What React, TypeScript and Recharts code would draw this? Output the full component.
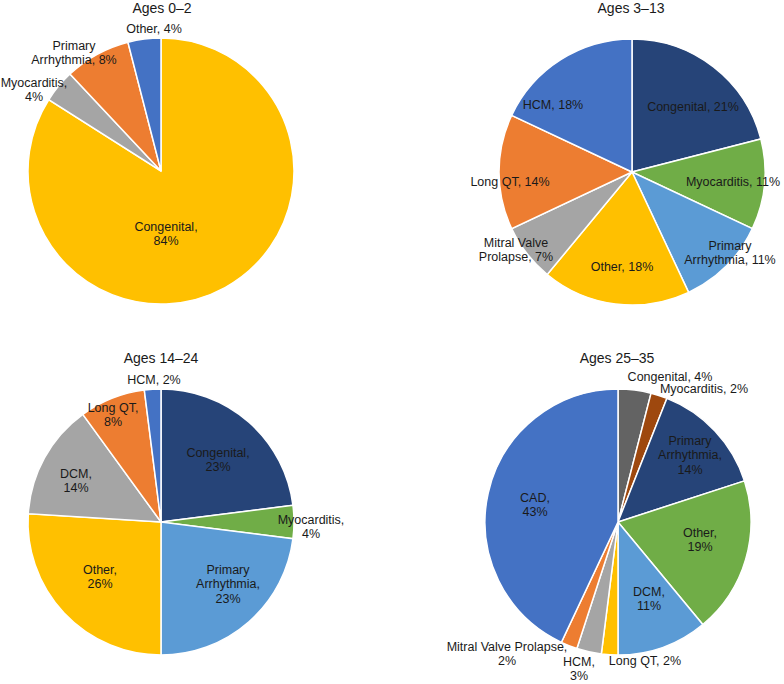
import { Cell, Pie, PieChart } from "recharts";

// Ages 0–2
const names0 = ["Congenital", "Myocarditis", "Primary Arrhythmia", "Other"];
const values0 = [84, 4, 8, 4];
const colors0 = ["#FFC000", "#A5A5A5", "#ED7D31", "#4472C4"];
const lines0 = [["Congenital,", "84%"], ["Myocarditis,", "4%"], ["Primary", "Arrhythmia, 8%"], ["Other, 4%"]];
const offsets0 = [[5, 63], [-127, -81], [-87, -118], [-7, -142]];

// Ages 3–13
const names1 = ["Congenital", "Myocarditis", "Primary Arrhythmia", "Other", "Mitral Valve Prolapse", "Long QT", "HCM"];
const values1 = [21, 11, 11, 18, 7, 14, 18];
const colors1 = ["#264478", "#70AD47", "#5B9BD5", "#FFC000", "#A5A5A5", "#ED7D31", "#4472C4"];
const lines1 = [
  ["Congenital, 21%"],
  ["Myocarditis, 11%"],
  ["Primary", "Arrhythmia, 11%"],
  ["Other, 18%"],
  ["Mitral Valve", "Prolapse, 7%"],
  ["Long QT, 14%"],
  ["HCM, 18%"],
];
const offsets1 = [[61, -65], [101, 10], [98, 81], [-10, 95], [-116, 78], [-122, 10], [-79, -67]];

// Ages 14–24
const names2 = ["Congenital", "Myocarditis", "Primary Arrhythmia", "Other", "DCM", "Long QT", "HCM"];
const values2 = [23, 4, 23, 26, 14, 8, 2];
const colors2 = ["#264478", "#70AD47", "#5B9BD5", "#FFC000", "#A5A5A5", "#ED7D31", "#4472C4"];
const lines2 = [
  ["Congenital,", "23%"],
  ["Myocarditis,", "4%"],
  ["Primary", "Arrhythmia,", "23%"],
  ["Other,", "26%"],
  ["DCM,", "14%"],
  ["Long QT,", "8%"],
  ["HCM, 2%"],
];
const offsets2 = [[57, -62], [150, 5], [67, 62], [-61, 55], [-85, -41], [-48, -107], [-7, -142]];

// Ages 25–35
const names3 = ["Congenital", "Myocarditis", "Primary Arrhythmia", "Other", "DCM", "Long QT", "HCM", "Mitral Valve Prolapse", "CAD"];
const values3 = [4, 2, 14, 19, 11, 2, 3, 2, 43];
const colors3 = ["#636363", "#9E480E", "#264478", "#70AD47", "#5B9BD5", "#FFC000", "#A5A5A5", "#ED7D31", "#4472C4"];
const lines3 = [
  ["Congenital, 4%"],
  ["Myocarditis, 2%"],
  ["Primary", "Arrhythmia,", "14%"],
  ["Other,", "19%"],
  ["DCM,", "11%"],
  ["Long QT, 2%"],
  ["HCM,", "3%"],
  ["Mitral Valve Prolapse,", "2%"],
  ["CAD,", "43%"],
];
const offsets3 = [[52, -145], [86, -133], [72, -67], [82, 18], [31, 77], [27, 139], [-39, 147], [-111, 132], [-83, -17]];

const titles = ["Ages 0–2", "Ages 3–13", "Ages 14–24", "Ages 25–35"];

const FONT = "'Liberation Sans', Arial, Helvetica, sans-serif";
const LINE_H = 14.5;

type PanelProps = {
  title: string;
  names: string[];
  values: number[];
  colors: string[];
  lines: string[][];
  offsets: number[][];
  left: number;
  top: number;
  cx: number;
  cy: number;
  titleX: number;
  titleY: number;
};

const Panel = (p: PanelProps) => {
  const data = p.names.map((name, i) => ({ name, value: p.values[i] }));

  const renderLabel = (props: any) => {
    const i = props.index;
    const [dx, dy] = p.offsets[i];
    const x = props.cx + dx;
    const y = props.cy + dy;
    const ls = p.lines[i];
    const y0 = y - ((ls.length - 1) * LINE_H) / 2;
    return (
      <text
        key={`lbl-${i}`}
        x={x}
        y={y0}
        textAnchor="middle"
        dominantBaseline="central"
        fontSize={12.5}
        fontFamily={FONT}
        fill="#1a1a1a"
      >
        {ls.map((l, k) => (
          <tspan key={k} x={x} y={y0 + k * LINE_H}>
            {l}
          </tspan>
        ))}
      </text>
    );
  };

  return (
    <div style={{ position: "absolute", left: p.left, top: p.top, width: 392, height: 342 }}>
      <div
        style={{
          position: "absolute",
          left: p.titleX - 60,
          top: p.titleY - 9,
          width: 120,
          textAlign: "center",
          fontFamily: FONT,
          fontSize: 14,
          lineHeight: "18px",
          color: "#1a1a1a",
        }}
      >
        {p.title}
      </div>
      <PieChart
        width={392}
        height={342}
        margin={{ top: 0, right: 0, bottom: 0, left: 0 }}
        style={{ position: "absolute", left: 0, top: 0 }}
      >
        <Pie
          data={data}
          dataKey="value"
          nameKey="name"
          cx={p.cx}
          cy={p.cy}
          outerRadius={133}
          startAngle={90}
          endAngle={-270}
          stroke="#ffffff"
          strokeWidth={1.5}
          label={renderLabel}
          labelLine={false}
          isAnimationActive={false}
        >
          {data.map((d, i) => (
            <Cell key={d.name} fill={p.colors[i]} />
          ))}
        </Pie>
      </PieChart>
    </div>
  );
};

export default function App() {
  return (
    <div style={{ position: "absolute", left: 0, top: 0, width: 784, height: 684, background: "#fff" }}>
      <Panel title={titles[0]} names={names0} values={values0} colors={colors0} lines={lines0} offsets={offsets0}
        left={0} top={0} cx={161} cy={171} titleX={162} titleY={8} />
      <Panel title={titles[1]} names={names1} values={values1} colors={colors1} lines={lines1} offsets={offsets1}
        left={392} top={0} cx={240} cy={172} titleX={239} titleY={8} />
      <Panel title={titles[2]} names={names2} values={values2} colors={colors2} lines={lines2} offsets={offsets2}
        left={0} top={342} cx={161} cy={180} titleX={161} titleY={16} />
      <Panel title={titles[3]} names={names3} values={values3} colors={colors3} lines={lines3} offsets={offsets3}
        left={392} top={342} cx={226} cy={180} titleX={225} titleY={16} />
    </div>
  );
}
